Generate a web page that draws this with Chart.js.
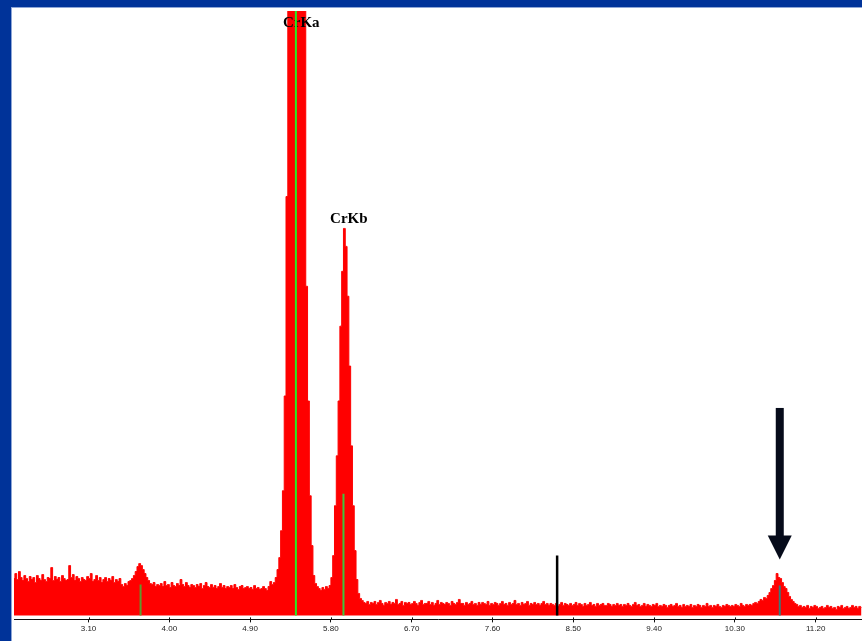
<!DOCTYPE html>
<html>
<head>
    <meta charset="utf-8">
    <title>EDS spectrum</title>
    <style>
        body{margin:0;background:#fff;}
        .frame{position:absolute;left:0;top:0;width:862px;height:641px;box-sizing:border-box;border-left:11px solid #003399;border-top:7px solid #003399;}
        .frame div{width:100%;height:100%;box-sizing:border-box;border-left:1px solid #8ea6d6;border-top:1px solid #8ea6d6;}
        #spectrum{position:absolute;left:0;top:0;}
    </style>
    <script src="https://cdn.jsdelivr.net/npm/chart.js@4.4.1/dist/chart.umd.min.js"></script>
</head>
<body>
    <div class="frame"><div></div></div>
    <canvas id="spectrum" width="862" height="641"></canvas>
    <script>
        // channel calibration (keV)
        const startEnergy = 2.27;
        const channelWidth = 0.02;
        // counts per channel, 2.27 .. 11.71 keV
        const counts = [
            37, 42, 36, 44, 38, 35, 40, 37, 34, 39,
            36, 38, 33, 40, 37, 35, 41, 36, 34, 38,
            37, 48, 35, 39, 36, 38, 34, 40, 37, 35,
            36, 50, 38, 41, 35, 39, 37, 34, 38, 36,
            35, 39, 37, 42, 34, 36, 40, 35, 38, 33,
            36, 38, 34, 37, 35, 39, 33, 36, 34, 37,
            31, 29, 32, 30, 34, 35, 37, 40, 44, 49,
            52, 50, 46, 42, 38, 35, 32, 31, 33, 29,
            31, 30, 32, 29, 34, 30, 31, 28, 33, 30,
            29, 32, 30, 36, 31, 29, 33, 30, 28, 31,
            30, 28, 31, 29, 32, 27, 30, 33, 29, 28,
            31, 28, 30, 27, 29, 32, 28, 30, 27, 29,
            28, 30, 27, 31, 28, 26, 29, 30, 27, 28,
            29, 27, 28, 26, 30, 27, 28, 26, 27, 29,
            27, 25, 29, 34, 31, 33, 38, 46, 58, 85,
            125, 220, 420, 770, 1250, 1780, 2220, 2450, 2370, 2020,
            1510, 990, 620, 330, 215, 120, 70, 40, 32, 29,
            27, 25, 28, 26, 29, 27, 30, 38, 60, 110,
            160, 215, 290, 345, 388, 370, 320, 250, 170, 110,
            65, 36, 22, 17, 15, 13, 12, 14, 11, 13,
            12, 14, 11, 13, 15, 12, 10, 13, 12, 14,
            11, 13, 12, 16, 11, 12, 14, 10, 13, 12,
            13, 11, 12, 14, 12, 10, 13, 15, 11, 12,
            12, 14, 11, 13, 10, 12, 15, 11, 13, 12,
            11, 13, 12, 10, 14, 12, 11, 13, 16, 12,
            12, 10, 13, 11, 12, 14, 11, 12, 10, 13,
            11, 13, 12, 11, 14, 10, 12, 11, 13, 12,
            10, 12, 14, 11, 12, 10, 13, 11, 12, 15,
            11, 12, 10, 13, 11, 12, 14, 10, 12, 11,
            13, 11, 12, 10, 12, 14, 11, 12, 10, 12,
            11, 10, 12, 9, 11, 13, 10, 12, 11, 10,
            12, 10, 11, 13, 10, 12, 11, 9, 12, 10,
            11, 13, 10, 11, 9, 12, 10, 11, 12, 10,
            10, 12, 11, 9, 11, 10, 12, 10, 11, 9,
            11, 10, 12, 10, 9, 11, 13, 10, 11, 9,
            10, 12, 9, 11, 10, 9, 11, 10, 12, 9,
            10, 9, 11, 10, 8, 10, 11, 9, 10, 12,
            9, 10, 8, 11, 9, 10, 9, 11, 8, 10,
            9, 11, 10, 8, 10, 9, 12, 9, 10, 8,
            10, 9, 11, 9, 8, 10, 9, 11, 10, 9,
            10, 9, 11, 10, 9, 12, 10, 9, 11, 10,
            11, 10, 12, 13, 12, 14, 16, 15, 18, 17,
            20, 23, 27, 30, 35, 42, 38, 37, 33, 29,
            27, 23, 19, 16, 14, 12, 11, 9, 10, 8,
            9, 8, 10, 7, 9, 8, 10, 9, 7, 8,
            9, 7, 8, 10, 8, 9, 7, 8, 6, 9,
            8, 10, 7, 8, 9, 7, 8, 10, 8, 9,
            7, 9, 8
        ];
        const tickValues = [3.10, 4.00, 4.90, 5.80, 6.70, 7.60, 8.50, 9.40, 10.30, 11.20];
        // line markers: escape, CrKa, CrKb, cursor, unknown peak
        const markerEnergies = [3.68, 5.41, 5.94, 8.32, 10.80];
        const markerHeights = [31, 606, 122, 60, 30];
        const markerColors = ['#5d9b2d', '#22ee22', '#3cc83c', '#000000', '#3c7878'];
        const peakLabels = ['CrKa', 'CrKb'];
        const labelEnergies = [5.47, 6.00];
        const labelHeights = [590, 393];
        const arrowEnergy = 10.80;
        const arrowLevels = {top: 208, headBase: 80, tip: 56};

        const spectrumData = counts.map((c, i) => ({x: startEnergy + i * channelWidth, y: c}));
        const markerSets = markerEnergies.map((e, i) => ({
            type: 'line',
            data: [{x: e, y: 0}, {x: e, y: markerHeights[i]}],
            borderColor: markerColors[i],
            borderWidth: i === 3 ? 2.5 : 2,
            pointRadius: 0,
            fill: false
        }));
        const spectrumIndex = markerSets.length;

        const overlay = {
            id: 'overlay',
            afterDatasetDraw(chart, args) {
                if (args.index !== spectrumIndex) return;
                const ctx = chart.ctx, xs = chart.scales.x, ys = chart.scales.y;
                ctx.save();
                ctx.font = 'bold 15px "Liberation Serif", serif';
                ctx.fillStyle = '#000';
                ctx.textAlign = 'center';
                ctx.textBaseline = 'alphabetic';
                peakLabels.forEach((t, i) => {
                    ctx.fillText(t, xs.getPixelForValue(labelEnergies[i]), ys.getPixelForValue(labelHeights[i]));
                });
                ctx.restore();
            },
            afterDatasetsDraw(chart) {
                const ctx = chart.ctx, xs = chart.scales.x, ys = chart.scales.y;
                const x = xs.getPixelForValue(arrowEnergy);
                const yTop = ys.getPixelForValue(arrowLevels.top);
                const yBase = ys.getPixelForValue(arrowLevels.headBase);
                const yTip = ys.getPixelForValue(arrowLevels.tip);
                ctx.save();
                ctx.fillStyle = '#060b1a';
                ctx.fillRect(x - 4, yTop, 8, yBase - yTop + 1);
                ctx.beginPath();
                ctx.moveTo(x - 12, yBase);
                ctx.lineTo(x + 12, yBase);
                ctx.lineTo(x, yTip);
                ctx.closePath();
                ctx.fill();
                ctx.restore();
            },
            afterDraw(chart) {
                // small tick marks above the axis line
                const ctx = chart.ctx, xs = chart.scales.x;
                const yAxis = chart.chartArea.bottom;
                ctx.save();
                ctx.strokeStyle = '#111';
                ctx.lineWidth = 1;
                tickValues.forEach(v => {
                    const px = Math.round(xs.getPixelForValue(v)) + 0.5;
                    ctx.beginPath();
                    ctx.moveTo(px, yAxis - 2);
                    ctx.lineTo(px, yAxis);
                    ctx.stroke();
                });
                ctx.restore();
            }
        };

        new Chart(document.getElementById('spectrum').getContext('2d'), {
            type: 'line',
            data: {
                datasets: markerSets.concat([{
                    data: spectrumData,
                    stepped: 'middle',
                    borderColor: '#ff0000',
                    borderWidth: 1,
                    backgroundColor: '#ff0000',
                    fill: 'origin',
                    pointRadius: 0
                }])
            },
            options: {
                responsive: false,
                animation: false,
                layout: {padding: {left: 14, right: 0, top: 11, bottom: 5}},
                plugins: {legend: {display: false}, tooltip: {enabled: false}},
                scales: {
                    x: {
                        type: 'linear',
                        min: 2.27,
                        max: 11.716,
                        afterBuildTicks: axis => { axis.ticks = tickValues.map(v => ({value: v})); },
                        grid: {drawOnChartArea: false, drawTicks: true, tickLength: 3, color: '#111'},
                        border: {display: true, color: '#111', width: 1},
                        ticks: {
                            autoSkip: false,
                            maxRotation: 0,
                            padding: 2,
                            color: '#222',
                            font: {family: '"Liberation Sans", Arial, sans-serif', size: 8},
                            callback: v => v.toFixed(2)
                        }
                    },
                    y: {display: false, min: -4, max: 606}
                }
            },
            plugins: [overlay]
        });
    </script>
</body>
</html>
